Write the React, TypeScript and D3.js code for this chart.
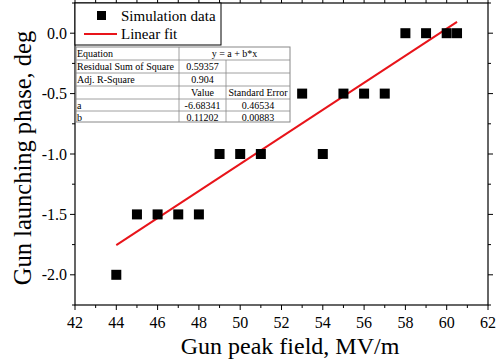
import React from 'react';
import { scaleLinear, range } from 'd3';

const fieldX = [44, 45, 46, 47, 48, 49, 50, 51, 53, 54, 55, 56, 57, 58, 59, 60, 60.5];
const phaseY = [-2, -1.5, -1.5, -1.5, -1.5, -1, -1, -1, -0.5, -1, -0.5, -0.5, -0.5, 0, 0, 0, 0];
const fitA = -6.68341;
const fitB = 0.11202;
const fitRange = [44, 60.5];
const xTicks = [42, 44, 46, 48, 50, 52, 54, 56, 58, 60, 62];
const yTicks = [0, -0.5, -1, -1.5, -2];
const tableRows = [
  ['Equation', 'y = a + b*x', ''],
  ['Residual Sum of Square', '0.59357', ''],
  ['Adj. R-Square', '0.904', ''],
  ['', 'Value', 'Standard Error'],
  ['a', '-6.68341', '0.46534'],
  ['b', '0.11202', '0.00883'],
];

const W = 504, H = 362;
const m = { left: 75, right: 488, top: 3, bottom: 305 };
const font = '"Liberation Serif", "Times New Roman", serif';

export default function App() {
  const x = scaleLinear().domain([42, 62]).range([m.left, m.right]);
  const y = scaleLinear().domain([-2.25, 0.25]).range([m.bottom, m.top]);
  const xMinor = range(42, 62.01, 1);
  const yMinor = range(-2.25, 0.26, 0.25);

  const colX = [76, 179, 226, 290];
  const rowY = [47, 60, 73, 86, 99, 111, 122];

  return (
    <svg width={W} height={H} style={{ position: 'absolute', left: 0, top: 0, background: '#fff' }} fontFamily={font}>
      <rect x={0} y={0} width={W} height={H} fill="#fff" />
      {/* frame */}
      <rect x={m.left} y={m.top} width={m.right - m.left} height={m.bottom - m.top} fill="none" stroke="#000" strokeWidth={1.2} />
      {/* x ticks bottom & top */}
      {xMinor.map((v, i) => {
        const len = i % 2 === 0 ? 5 : 3;
        return (
          <g key={'xt' + i} stroke="#000" strokeWidth={1}>
            <line x1={x(v)} x2={x(v)} y1={m.bottom} y2={m.bottom + len} />
            <line x1={x(v)} x2={x(v)} y1={m.top} y2={m.top - len} />
          </g>
        );
      })}
      {yMinor.map((v, i) => {
        const major = Math.abs(v * 2 - Math.round(v * 2)) < 1e-6;
        const len = major ? 5 : 3;
        return (
          <g key={'yt' + i} stroke="#000" strokeWidth={1}>
            <line x1={m.left} x2={m.left - len} y1={y(v)} y2={y(v)} />
            <line x1={m.right} x2={m.right + len} y1={y(v)} y2={y(v)} />
          </g>
        );
      })}
      {xTicks.map((v) => (
        <text key={'xl' + v} x={x(v)} y={328} fontSize={16} textAnchor="middle">{v}</text>
      ))}
      {yTicks.map((v) => (
        <text key={'yl' + v} x={m.left - 8} y={y(v) + 5.5} fontSize={16} textAnchor="end">{v.toFixed(1)}</text>
      ))}
      <text x={290} y={354} fontSize={24} textAnchor="middle">Gun peak field, MV/m</text>
      <text transform={`translate(31,158) rotate(-90)`} fontSize={24.5} textAnchor="middle">Gun launching phase, deg</text>

      {/* fit line */}
      <line x1={x(fitRange[0])} y1={y(fitA + fitB * fitRange[0])} x2={x(fitRange[1])} y2={y(fitA + fitB * fitRange[1])} stroke="#e8141a" strokeWidth={2} />
      {/* points */}
      {fieldX.map((v, i) => (
        <rect key={'p' + i} x={x(v) - 5} y={y(phaseY[i]) - 5} width={10} height={10} fill="#000" />
      ))}

      {/* legend */}
      <rect x={m.left} y={m.top} width={146} height={42} fill="#fff" stroke="#000" strokeWidth={1} />
      <rect x={97} y={11} width={9} height={9} fill="#000" />
      <text x={121} y={21} fontSize={15}>Simulation data</text>
      <line x1={84} x2={117} y1={34} y2={34} stroke="#e8141a" strokeWidth={2} />
      <text x={121} y={39} fontSize={15}>Linear fit</text>

      {/* table */}
      <rect x={colX[0]} y={rowY[0]} width={colX[3] - colX[0]} height={rowY[6] - rowY[0]} fill="#fff" stroke="#888" strokeWidth={1} />
      {rowY.slice(1, 6).map((ry, i) => (
        <line key={'rl' + i} x1={colX[0]} x2={colX[3]} y1={ry} y2={ry} stroke="#888" strokeWidth={0.8} />
      ))}
      <line x1={colX[1]} x2={colX[1]} y1={rowY[0]} y2={rowY[6]} stroke="#888" strokeWidth={0.8} />
      <line x1={colX[2]} x2={colX[2]} y1={rowY[1]} y2={rowY[6]} stroke="#888" strokeWidth={0.8} />
      {tableRows.map((row, i) => (
        <g key={'tr' + i} fontSize={10}>
          <text x={colX[0] + 1} y={rowY[i] + 10}>{row[0]}</text>
          {i === 0 ? (
            <text x={(colX[1] + colX[3]) / 2} y={rowY[i] + 10} textAnchor="middle">{row[1]}</text>
          ) : (
            <>
              <text x={(colX[1] + colX[2]) / 2} y={rowY[i] + 10} textAnchor="middle">{row[1]}</text>
              <text x={(colX[2] + colX[3]) / 2} y={rowY[i] + 10} textAnchor="middle">{row[2]}</text>
            </>
          )}
        </g>
      ))}
    </svg>
  );
}
